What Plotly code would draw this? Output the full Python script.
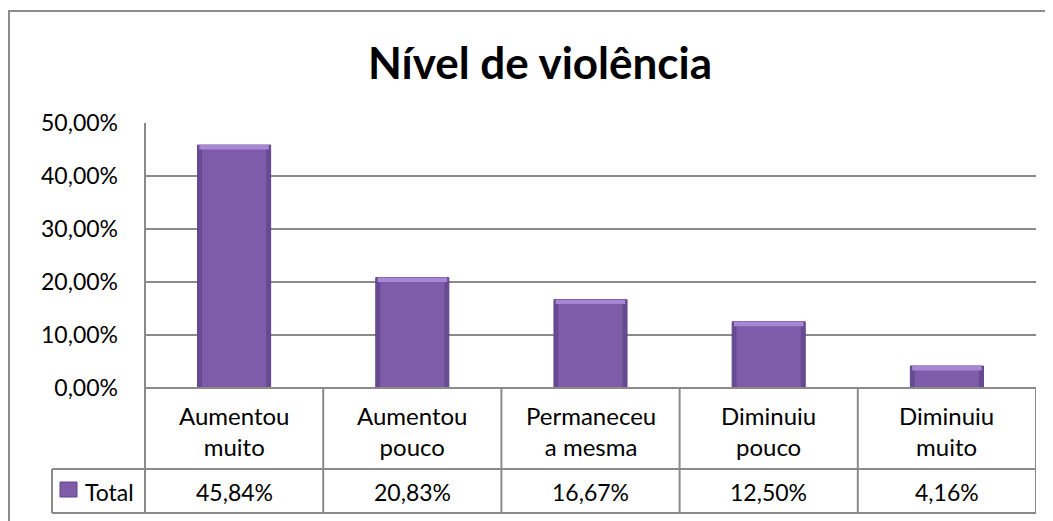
import plotly.graph_objects as go

categories = ["Aumentou<br>muito", "Aumentou<br>pouco", "Permaneceu<br>a mesma", "Diminuiu<br>pouco", "Diminuiu<br>muito"]
values = [0.4584, 0.2083, 0.1667, 0.1250, 0.0416]
value_labels = ["45,84%", "20,83%", "16,67%", "12,50%", "4,16%"]
series_name = "Total"
title_text = "Nível de violência"

FONT = "Lato"
GRID = "#8a8a8a"
BAR = "#7E5CA9"
BAR_DARK = "#684A93"
BAR_EDGE = "#5E4489"
BAR_TOP = "#A888D6"

OFF = 8  # page body margin
W, H = 1053, 521
# reference pixel positions (page coords)
PL, PR, PT, PB = 145, 1036, 123, 388
L = PL - OFF
T = PT - OFF
R = W - (PR - OFF)
B = H - (PB - OFF)
plot_h = H - T - B
plot_w = W - L - R

def py(px):  # page pixel y -> paper y
    return (PB - px) / plot_h

def pxx(px):  # page pixel x -> paper x
    return (px - PL) / plot_w

n = len(categories)
xs = list(range(n))
bevel = 0.012  # bevel depth in axis units (styling)

fig = go.Figure()
# outer darker body (edges)
fig.add_trace(go.Bar(
    x=xs, y=values, width=0.41,
    marker=dict(color=BAR_DARK, line=dict(color=BAR_EDGE, width=1)),
    showlegend=False, hoverinfo="skip",
))
# inner lighter face
fig.add_trace(go.Bar(
    x=xs, y=[v - bevel * 0.3 for v in values], width=0.36,
    marker=dict(color=BAR, line=dict(width=0)),
    showlegend=False, hoverinfo="skip",
))
# top highlight bevel
fig.add_trace(go.Bar(
    x=xs, y=[bevel * 0.7] * n, base=[v - bevel * 0.7 for v in values], width=0.39,
    marker=dict(color=BAR_TOP, line=dict(width=0)),
    showlegend=False, hoverinfo="skip",
))

shapes = []
annotations = []
line = dict(color=GRID, width=2)

row1_bottom = py(469)
row2_bottom = py(513)

# outer chart border
shapes.append(dict(type="rect", xref="paper", yref="paper", x0=pxx(9), x1=pxx(1075),
                   y0=py(545), y1=py(11), line=dict(color="#8c8c8c", width=2), layer="below"))
# table horizontal lines
shapes.append(dict(type="line", xref="x", yref="paper", x0=-0.5, x1=n - 0.5, y0=0, y1=0, line=line))
shapes.append(dict(type="line", xref="paper", yref="paper", x0=pxx(52), x1=1, y0=row1_bottom, y1=row1_bottom, line=line))
shapes.append(dict(type="line", xref="paper", yref="paper", x0=pxx(52), x1=1, y0=row2_bottom, y1=row2_bottom, line=line))
# left axis line through table
shapes.append(dict(type="line", xref="paper", yref="paper", x0=0, x1=0, y0=row2_bottom, y1=1, line=line))
# legend cell left border
shapes.append(dict(type="line", xref="paper", yref="paper", x0=pxx(52), x1=pxx(52), y0=row2_bottom, y1=row1_bottom, line=line))
# category separators
for i in range(1, n + 1):
    shapes.append(dict(type="line", xref="x", yref="paper", x0=i - 0.5, x1=i - 0.5, y0=row2_bottom, y1=0, line=line))

# legend swatch
shapes.append(dict(type="rect", xref="paper", yref="paper", x0=pxx(60), x1=pxx(77),
                   y0=py(497), y1=py(482), fillcolor=BAR, line=dict(color=BAR_EDGE, width=1)))

for i, (c, v) in enumerate(zip(categories, value_labels)):
    annotations.append(dict(x=i, y=py(431), xref="x", yref="paper", text=c,
                            showarrow=False, font=dict(family=FONT, size=24, color="#000"),
                            xanchor="center", yanchor="middle"))
    annotations.append(dict(x=i, y=py(492), xref="x", yref="paper", text=v,
                            showarrow=False, font=dict(family=FONT, size=23, color="#000"),
                            xanchor="center", yanchor="middle"))
annotations.append(dict(x=pxx(83), y=py(492), xref="paper", yref="paper",
                        text=series_name, showarrow=False, font=dict(family=FONT, size=23, color="#000"),
                        xanchor="left", yanchor="middle"))

fig.update_layout(
    width=W, height=H,
    margin=dict(l=L, r=R, t=T, b=B),
    paper_bgcolor="white", plot_bgcolor="white",
    separators=",.",
    barmode="overlay",
    title=dict(text="<b>" + title_text + "</b>", x=pxx(540), xref="paper", xanchor="center",
               y=1 - (64 - OFF) / H, yanchor="middle", font=dict(family=FONT, size=44, color="#000")),
    xaxis=dict(range=[-0.5, n - 0.5], showticklabels=False, showgrid=False, zeroline=False,
               showline=False, fixedrange=True),
    yaxis=dict(range=[0, 0.5], dtick=0.1, tickformat=".2%", showgrid=True, gridcolor=GRID, gridwidth=2,
               zeroline=False, showline=False, ticks="", ticklabelstandoff=26,
               tickfont=dict(family=FONT, size=23, color="#000"), fixedrange=True),
    shapes=shapes, annotations=annotations,
)

fig.write_html("out.html")
